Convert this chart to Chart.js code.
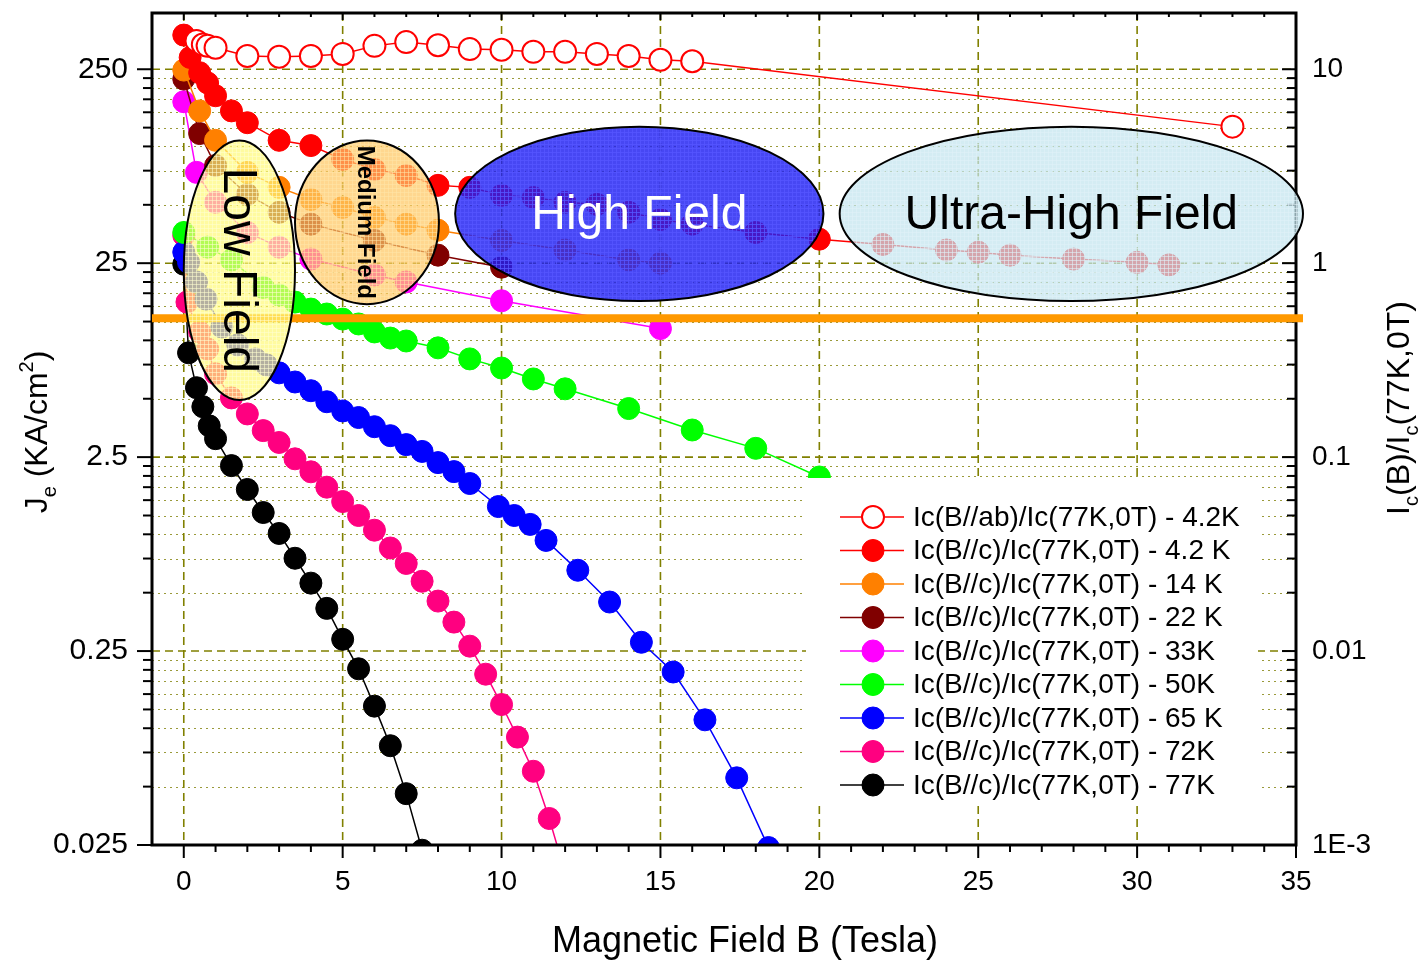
<!DOCTYPE html>
<html>
<head>
<meta charset="utf-8">
<script src="https://cdn.jsdelivr.net/npm/chart.js@4.4.1/dist/chart.umd.min.js"></script>
<style>
  html, body { margin: 0; padding: 0; background: #fff; }
  #wrap { width: 1427px; height: 960px; position: relative; }
</style>
</head>
<body>
<div id="wrap"><canvas id="chart"></canvas></div>
<script>
// ---- data (B in Tesla, Ic(B)/Ic(77K,0T)) ----
const bAb42 = [0.4, 0.6, 0.75, 1, 2, 3, 4, 5, 6, 7, 8, 9, 10, 11, 12, 13, 14, 15, 16, 33];
const icAb42 = [14.0, 13.4, 13.2, 12.9, 11.7, 11.6, 11.7, 12.0, 13.2, 13.8, 13.3, 12.7, 12.6, 12.3, 12.3, 12.0, 11.7, 11.2, 11.0, 5.06];

const bC42 = [0, 0.2, 0.5, 0.75, 1, 1.5, 2, 3, 4, 5, 6, 7, 8, 9, 10, 11, 12, 13, 14, 15, 16, 18, 20, 22, 24, 25, 26, 28, 30, 31];
const icC42 = [15.0, 11.5, 9.6, 8.5, 7.3, 6.1, 5.3, 4.3, 4.04, 3.43, 3.04, 2.83, 2.52, 2.46, 2.24, 2.18, 2.06, 2.01, 1.83, 1.68, 1.59, 1.44, 1.33, 1.25, 1.17, 1.14, 1.10, 1.05, 1.01, 0.98];

const bC14 = [0, 0.5, 1, 2, 3, 4, 5, 6, 7, 8, 10, 12, 14, 15];
const icC14 = [9.9, 6.1, 4.3, 2.94, 2.46, 2.13, 1.94, 1.72, 1.59, 1.48, 1.31, 1.17, 1.04, 1.0];

const bC22 = [0, 0.5, 1, 2, 3, 4, 6, 8, 10];
const icC22 = [8.9, 4.66, 3.19, 2.26, 1.83, 1.59, 1.31, 1.10, 0.954];

const bC33 = [0, 0.4, 1, 2, 3, 4, 6, 7, 10, 15];
const icC33 = [6.8, 2.94, 2.06, 1.44, 1.21, 1.05, 0.87, 0.80, 0.64, 0.46];

const bC50 = [0, 0.75, 1.5, 2.5, 3, 3.5, 4, 4.5, 5, 5.5, 6, 6.5, 7, 8, 9, 10, 11, 12, 14, 16, 18, 20];
const icC50 = [1.44, 1.21, 1.04, 0.75, 0.685, 0.63, 0.58, 0.547, 0.515, 0.486, 0.442, 0.411, 0.397, 0.366, 0.321, 0.288, 0.253, 0.225, 0.178, 0.138, 0.111, 0.079];

const bC65 = [0, 0.15, 0.4, 0.7, 1.2, 1.7, 2.25, 2.6, 3, 3.5, 4, 4.5, 5, 5.5, 6, 6.5, 7, 7.5, 8, 8.5, 9, 9.9, 10.4, 10.9, 11.4, 12.4, 13.4, 14.4, 15.4, 16.4, 17.4, 18.4];
const icC65 = [1.14, 1.01, 0.80, 0.653, 0.469, 0.379, 0.321, 0.299, 0.272, 0.244, 0.220, 0.193, 0.173, 0.160, 0.1435, 0.129, 0.116, 0.107, 0.0937, 0.0842, 0.0731, 0.0556, 0.050, 0.045, 0.0372, 0.0261, 0.0179, 0.0111, 0.0078, 0.00442, 0.00222, 0.00097];

const bC72 = [0, 0.1, 0.5, 0.75, 1, 1.5, 2, 2.5, 3, 3.5, 4, 4.5, 5, 5.5, 6, 6.5, 7, 7.5, 8, 8.5, 9, 9.5, 10, 10.5, 11, 11.5, 12];
const icC72 = [1.39, 0.63, 0.442, 0.361, 0.269, 0.202, 0.167, 0.137, 0.119, 0.098, 0.084, 0.070, 0.059, 0.050, 0.042, 0.034, 0.0283, 0.0229, 0.0181, 0.0141, 0.0106, 0.0076, 0.0053, 0.0036, 0.0024, 0.00137, 0.00072];

const bC77 = [0, 0.15, 0.4, 0.6, 0.8, 1, 1.5, 2, 2.5, 3, 3.5, 4, 4.5, 5, 5.5, 6, 6.5, 7, 7.5];
const icC77 = [0.988, 0.345, 0.228, 0.182, 0.145, 0.1245, 0.0904, 0.0681, 0.0518, 0.0404, 0.0301, 0.0224, 0.0166, 0.0115, 0.0081, 0.0052, 0.00325, 0.00184, 0.00094];

const seriesLabels = [
  'Ic(B//ab)/Ic(77K,0T) - 4.2K',
  'Ic(B//c)/Ic(77K,0T) - 4.2 K',
  'Ic(B//c)/Ic(77K,0T) - 14 K',
  'Ic(B//c)/Ic(77K,0T) - 22 K',
  'Ic(B//c)/Ic(77K,0T) - 33K',
  'Ic(B//c)/Ic(77K,0T) - 50K',
  'Ic(B//c)/Ic(77K,0T) - 65 K',
  'Ic(B//c)/Ic(77K,0T) - 72K',
  'Ic(B//c)/Ic(77K,0T) - 77K'
];
const seriesColors = ['#ff0000', '#ff0000', '#ff8000', '#800000', '#ff00ff', '#00ff00', '#0000ff', '#ff0080', '#000000'];

// axis ticks
const xTicks = [0, 5, 10, 15, 20, 25, 30, 35];
const rightTicks = [0.001, 0.01, 0.1, 1, 10];
const rightTickText = ['1E-3', '0.01', '0.1', '1', '10'];
const leftTicks = [0.025, 0.25, 2.5, 25, 250];
const leftTickText = ['0.025', '0.25', '2.5', '25', '250'];

// field regions (data units) and the 0.5 criterion line
const zones = [
  { label: 'Low Field', x0: 0, x1: 3.5, y0: 0.197, y1: 4.29, base: 'rgba(255,250,120,0.7)', line: 'rgba(255,255,210,0.55)', text: '#000', font: '48px "Liberation Sans", Arial, sans-serif', rot: Math.PI / 2 },
  { label: 'Medium Field', x0: 3.5, x1: 8.03, y0: 0.615, y1: 4.29, base: 'rgba(255,200,100,0.72)', line: 'rgba(255,230,170,0.55)', text: '#000', font: 'bold 24px "Liberation Sans", Arial, sans-serif', rot: Math.PI / 2 },
  { label: 'High Field', x0: 8.54, x1: 20.13, y0: 0.638, y1: 5.06, base: 'rgba(30,30,240,0.82)', line: 'rgba(85,85,255,0.82)', text: '#fff', font: '48px "Liberation Sans", Arial, sans-serif', rot: 0 },
  { label: 'Ultra-High Field', x0: 20.64, x1: 35.22, y0: 0.638, y1: 5.06, base: 'rgba(195,228,238,0.72)', line: 'rgba(225,242,248,0.6)', text: '#000', font: '48px "Liberation Sans", Arial, sans-serif', rot: 0 }
];
const criterion = 0.52;

const FONT = '"Liberation Sans", Arial, sans-serif';
const OLIVE = '#808000';

const makeSet = (i, bs, vals, open) => ({
  label: seriesLabels[i],
  data: bs.map((b, k) => ({ x: b, y: vals[k] })),
  borderColor: seriesColors[i],
  backgroundColor: open ? '#ffffff' : seriesColors[i],
  pointBackgroundColor: open ? '#ffffff' : seriesColors[i],
  pointBorderColor: seriesColors[i],
  pointBorderWidth: open ? 2 : 1,
  pointRadius: 11,
  borderWidth: 1.5,
  showLine: true,
  tension: 0,
  clip: 0,
  yAxisID: 'y'
});

const datasets = [
  makeSet(0, bAb42, icAb42, true),
  makeSet(1, bC42, icC42),
  makeSet(2, bC14, icC14),
  makeSet(3, bC22, icC22),
  makeSet(4, bC33, icC33),
  makeSet(5, bC50, icC50),
  makeSet(6, bC65, icC65),
  makeSet(7, bC72, icC72),
  makeSet(8, bC77, icC77)
];

function makePattern(base, line) {
  const c = document.createElement('canvas');
  c.width = 4; c.height = 4;
  const g = c.getContext('2d');
  g.fillStyle = base;
  g.fillRect(0, 0, 4, 4);
  g.fillStyle = line;
  g.fillRect(0, 0, 4, 1);
  g.fillRect(0, 0, 1, 4);
  return c;
}

function seg(ctx, x1, y1, x2, y2) {
  ctx.beginPath();
  ctx.moveTo(x1, y1);
  ctx.lineTo(x2, y2);
  ctx.stroke();
}

// no extra label overhang padding: the frame is set by afterFit
function noPad(s) {
  s.paddingTop = 0; s.paddingBottom = 0; s.paddingLeft = 0; s.paddingRight = 0;
}

// grid behind the data
const gridPlugin = {
  id: 'grid',
  beforeDatasetsDraw(chart) {
    const { ctx, chartArea: a, scales: { x, y } } = chart;
    ctx.save();
    ctx.beginPath();
    ctx.rect(a.left, a.top, a.right - a.left, a.bottom - a.top);
    ctx.clip();
    ctx.strokeStyle = '#9a9a3a';
    ctx.lineWidth = 1;
    ctx.setLineDash([2, 4]);
    for (let e = -3; e <= 1; e++) {
      for (let k = 2; k <= 9; k++) {
        const v = k * Math.pow(10, e);
        if (v > y.max) continue;
        const py = Math.round(y.getPixelForValue(v)) + 0.5;
        seg(ctx, a.left, py, a.right, py);
      }
    }
    ctx.strokeStyle = OLIVE;
    ctx.lineWidth = 1.6;
    ctx.setLineDash([8, 5]);
    [0.01, 0.1, 1, 10].forEach(v => {
      const py = y.getPixelForValue(v);
      seg(ctx, a.left, py, a.right, py);
    });
    xTicks.filter(v => v < 35).forEach(v => {
      const px = x.getPixelForValue(v);
      seg(ctx, px, a.top, px, a.bottom);
    });
    ctx.restore();
  }
};

function drawRich(ctx, parts, cx, cy, rot) {
  ctx.save();
  ctx.translate(cx, cy);
  ctx.rotate(rot);
  ctx.textBaseline = 'alphabetic';
  ctx.textAlign = 'left';
  let total = 0;
  parts.forEach(p => { ctx.font = p.size + 'px ' + FONT; p.w = ctx.measureText(p.t).width; total += p.w; });
  let px = -total / 2;
  parts.forEach(p => {
    ctx.font = p.size + 'px ' + FONT;
    ctx.fillText(p.t, px, 11 + (p.dy || 0));
    px += p.w;
  });
  ctx.restore();
}

// axes, overlays, legend, titles on top
const overlayPlugin = {
  id: 'overlay',
  afterDraw(chart) {
    const { ctx, chartArea: a, scales: { x, y, yL } } = chart;
    ctx.save();
    ctx.setLineDash([]);
    ctx.strokeStyle = '#000';

    // tick marks
    ctx.lineWidth = 2;
    for (let v = 0; v <= 35; v++) {
      const px = x.getPixelForValue(v);
      const major = v % 5 === 0;
      seg(ctx, px, a.bottom, px, a.bottom + (major ? 13 : 7));
      seg(ctx, px, a.top, px, a.top + (major ? 7 : 4));
    }
    for (let e = 0; e <= 4; e++) {
      for (let k = 1; k <= 9; k++) {
        const v = 0.025 * k * Math.pow(10, e);
        if (v > yL.max) continue;
        const py = yL.getPixelForValue(v);
        seg(ctx, a.left - (k === 1 ? 15 : 9), py, a.left, py);
      }
    }
    for (let e = -3; e <= 1; e++) {
      for (let k = 1; k <= 9; k++) {
        const v = k * Math.pow(10, e);
        if (v > y.max) continue;
        const py = y.getPixelForValue(v);
        seg(ctx, a.right - (k === 1 ? 14 : 9), py, a.right, py);
      }
    }
    ctx.lineWidth = 3;
    ctx.strokeRect(a.left, a.top, a.right - a.left, a.bottom - a.top);

    // 0.5 criterion line
    const cy = y.getPixelForValue(criterion);
    ctx.strokeStyle = '#ff9900';
    ctx.lineWidth = 8;
    seg(ctx, a.left, cy, a.right + 7, cy);

    // field regions
    zones.forEach(z => {
      const xa = x.getPixelForValue(z.x0), xb = x.getPixelForValue(z.x1);
      const ya = y.getPixelForValue(z.y0), yb = y.getPixelForValue(z.y1);
      const ex = (xa + xb) / 2, ey = (ya + yb) / 2;
      ctx.beginPath();
      ctx.ellipse(ex, ey, Math.abs(xb - xa) / 2, Math.abs(ya - yb) / 2, 0, 0, Math.PI * 2);
      ctx.fillStyle = ctx.createPattern(makePattern(z.base, z.line), 'repeat');
      ctx.fill();
      ctx.strokeStyle = '#000';
      ctx.lineWidth = 2;
      ctx.stroke();
      ctx.save();
      ctx.translate(ex, ey);
      ctx.rotate(z.rot);
      ctx.font = z.font;
      ctx.fillStyle = z.text;
      ctx.textAlign = 'center';
      ctx.textBaseline = 'middle';
      ctx.fillText(z.label, 0, 2);
      ctx.restore();
    });

    // legend
    const lx = a.right - 490, ly = a.bottom - 367;
    ctx.fillStyle = '#fff';
    ctx.fillRect(lx, ly, 452, 325);
    chart.data.datasets.forEach((ds, i) => {
      const ry = ly + 39 + i * 33.5;
      const sx = a.right - 456;
      ctx.strokeStyle = ds.borderColor;
      ctx.lineWidth = 1.5;
      seg(ctx, sx, ry, sx + 64, ry);
      ctx.beginPath();
      ctx.arc(sx + 33, ry, 11, 0, Math.PI * 2);
      ctx.fillStyle = ds.pointBackgroundColor;
      ctx.fill();
      ctx.lineWidth = ds.pointBorderWidth;
      ctx.stroke();
      ctx.fillStyle = '#000';
      ctx.font = '28px ' + FONT;
      ctx.textAlign = 'left';
      ctx.textBaseline = 'middle';
      ctx.fillText(ds.label, sx + 73, ry + 1);
    });

    // axis titles
    ctx.fillStyle = '#000';
    ctx.font = '36px ' + FONT;
    ctx.textAlign = 'center';
    ctx.textBaseline = 'alphabetic';
    ctx.fillText('Magnetic Field B (Tesla)', 745, 952);

    drawRich(ctx, [
      { t: 'J', size: 32 },
      { t: 'e', size: 20, dy: 9 },
      { t: ' (KA/cm', size: 32 },
      { t: '2', size: 20, dy: -14 },
      { t: ')', size: 32 }
    ], 36, 432, -Math.PI / 2);

    drawRich(ctx, [
      { t: 'I', size: 32 },
      { t: 'c', size: 20, dy: 9 },
      { t: '(B)/I', size: 32 },
      { t: 'c', size: 20, dy: 9 },
      { t: '(77K,0T)', size: 32 }
    ], 1398, 408, -Math.PI / 2);

    ctx.restore();
  }
};

new Chart(document.getElementById('chart'), {
  type: 'line',
  data: { datasets },
  options: {
    responsive: true,
    maintainAspectRatio: false,
    animation: false,
    layout: { padding: { top: 10, left: 0, right: 0, bottom: 0 } },
    plugins: { legend: { display: false }, tooltip: { enabled: false } },
    elements: { line: { borderWidth: 1.5 } },
    scales: {
      x: {
        type: 'linear',
        position: 'bottom',
        min: -1,
        max: 35,
        grid: { display: false, drawTicks: false },
        border: { display: false },
        afterBuildTicks: s => { s.ticks = xTicks.map(v => ({ value: v })); },
        afterFit: s => { s.height = 115; noPad(s); },
        ticks: { color: '#000', font: { family: FONT, size: 28 }, padding: 20, autoSkip: false, maxRotation: 0 }
      },
      y: {
        type: 'logarithmic',
        position: 'right',
        min: 0.001,
        max: 19.5,
        grid: { display: false, drawTicks: false },
        border: { display: false },
        afterBuildTicks: s => { s.ticks = rightTicks.map(v => ({ value: v })); },
        afterFit: s => { s.width = 131; noPad(s); },
        ticks: {
          color: '#000', font: { family: FONT, size: 28 }, padding: 16, autoSkip: false,
          callback: v => rightTickText[rightTicks.indexOf(v)]
        }
      },
      yL: {
        type: 'logarithmic',
        position: 'left',
        min: 0.025,
        max: 487.5,
        grid: { display: false, drawTicks: false },
        border: { display: false },
        afterBuildTicks: s => { s.ticks = leftTicks.map(v => ({ value: v })); },
        afterFit: s => { s.width = 152; noPad(s); },
        ticks: {
          color: '#000', font: { family: FONT, size: 30 }, padding: 24, autoSkip: false,
          callback: v => leftTickText[leftTicks.indexOf(v)]
        }
      }
    }
  },
  plugins: [gridPlugin, overlayPlugin]
});
</script>
</body>
</html>
